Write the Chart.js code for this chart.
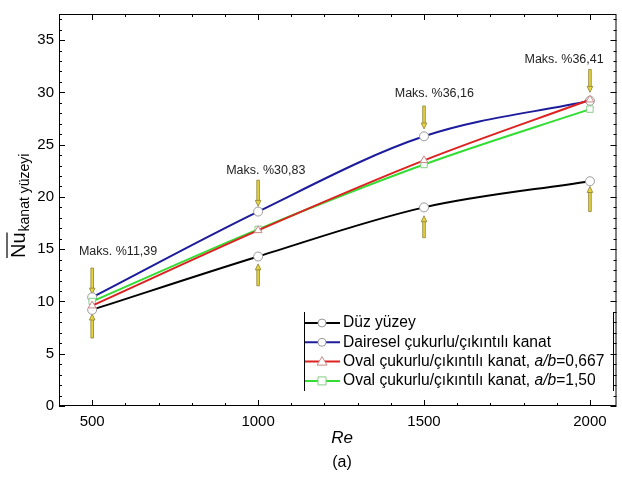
<!DOCTYPE html>
<html><head><meta charset="utf-8">
<script src="https://cdn.jsdelivr.net/npm/chart.js@4/dist/chart.umd.min.js"></script>
<style>html,body{margin:0;padding:0;background:#fff}#wrap{width:622px;height:479px;position:relative}</style>
</head><body><div id="wrap"><canvas id="c" width="622" height="479"></canvas></div>
<script>
// ---- data ----
const reValues = [500, 1000, 1500, 2000];
const duzYuzey = [9.2, 14.3, 19.0, 21.5];
const dairesel = [10.4, 18.6, 25.8, 29.2];
const oval0667 = [9.6, 16.8, 23.5, 29.3];
const oval150 = [10.0, 16.9, 23.1, 28.4];
const seriesNames = ["Düz yüzey", "Dairesel çukurlu/çıkıntılı kanat", "Oval çukurlu/çıkıntılı kanat, ", "Oval çukurlu/çıkıntılı kanat, "];
const xTicks = [500, 1000, 1500, 2000];
const yTicks = [0, 5, 10, 15, 20, 25, 30, 35];
// arrows (value ranges)
const arrowDownStart = [13.2, 21.6, 28.7, 32.2];
const arrowDownTip = [10.7, 19.1, 26.5, 30.0];
const arrowUpStart = [6.5, 11.5, 16.1, 18.6];
const arrowUpTip = [8.8, 13.6, 18.2, 21.0];
// annotations
const annTexts = ["Maks. %11,39", "Maks. %30,83", "Maks. %36,16", "Maks. %36,41"];
const annRe = [578, 1023, 1531, 1922];
const annNu = [14.8, 22.5, 29.85, 33.1];

const pts = arr => reValues.map((x, i) => ({x: x, y: arr[i]}));
const FONT = '"Liberation Sans", Arial, sans-serif';

function mkDs(label, arr, color, style, edge, order) {
  return {label, data: pts(arr), borderColor: color, borderWidth: 2, pointStyle: style,
    pointRadius: 4.5, pointBackgroundColor: '#fff', pointBorderColor: edge, pointBorderWidth: 1,
    cubicInterpolationMode: 'monotone', fill: false, order};
}

const legendItems = [
  {color: '#000', style: 'circle', edge: '#999', parts: [["Düz yüzey", false]]},
  {color: '#1c1c9c', style: 'circle', edge: '#999', parts: [["Dairesel çukurlu/çıkıntılı kanat", false]]},
  {color: '#dd2222', style: 'triangle', edge: '#c88', parts: [["Oval çukurlu/çıkıntılı kanat, ", false], ["a/b", true], ["=0,667", false]]},
  {color: '#33dd33', style: 'rect', edge: '#8c8', parts: [["Oval çukurlu/çıkıntılı kanat, ", false], ["a/b", true], ["=1,50", false]]}
];

function drawMarker(ctx, style, x, y, edge) {
  ctx.save(); ctx.fillStyle = '#fff'; ctx.strokeStyle = edge; ctx.lineWidth = 1;
  ctx.beginPath();
  if (style === 'circle') ctx.arc(x, y, 4, 0, Math.PI * 2);
  else if (style === 'triangle') { ctx.moveTo(x, y - 5); ctx.lineTo(x + 5, y + 3.5); ctx.lineTo(x - 5, y + 3.5); ctx.closePath(); }
  else ctx.rect(x - 4, y - 4, 8, 8);
  ctx.fill(); ctx.stroke(); ctx.restore();
}

function drawArrow(ctx, x, y0, y1) {
  const dir = y1 > y0 ? 1 : -1;
  ctx.save();
  ctx.fillStyle = '#e8d63c'; ctx.strokeStyle = '#8a7f3a'; ctx.lineWidth = 0.8;
  const h = Math.abs((y1 - dir * 5) - y0);
  ctx.beginPath(); ctx.rect(x - 1.3, Math.min(y0, y1 - dir * 5), 2.6, h); ctx.fill(); ctx.stroke();
  ctx.beginPath(); ctx.moveTo(x - 2.8, y1 - dir * 6); ctx.lineTo(x + 2.8, y1 - dir * 6); ctx.lineTo(x, y1); ctx.closePath();
  ctx.fill(); ctx.stroke();
  ctx.restore();
}

const deco = {
  id: 'deco',
  beforeDatasetsDraw(chart) {
    const {ctx, scales: {x, y}} = chart;
    reValues.forEach((re, i) => {
      const px = x.getPixelForValue(re);
      drawArrow(ctx, px, y.getPixelForValue(arrowDownStart[i]), y.getPixelForValue(arrowDownTip[i]));
      drawArrow(ctx, px, y.getPixelForValue(arrowUpStart[i]), y.getPixelForValue(arrowUpTip[i]));
    });
  },
  afterDraw(chart) {
    const {ctx, chartArea: a, scales: {x, y}} = chart;
    ctx.save();
    ctx.strokeStyle = '#000'; ctx.lineWidth = 1;
    ctx.strokeRect(a.left + 0.5, a.top + 0.5, a.right - a.left - 1, a.bottom - a.top - 1);
    ctx.beginPath();
    for (let v = 500; v <= x.max; v += 100) {
      const px = Math.round(x.getPixelForValue(v)) + 0.5;
      const len = (v % 500 === 0) ? 6 : 3;
      ctx.moveTo(px, a.bottom); ctx.lineTo(px, a.bottom - len);
      ctx.moveTo(px, a.top); ctx.lineTo(px, a.top + len);
    }
    for (let v = 0; v <= y.max; v += 1) {
      const py = Math.round(y.getPixelForValue(v)) + 0.5;
      const len = (v % 5 === 0) ? 6 : 3;
      ctx.moveTo(a.left, py); ctx.lineTo(a.left + len, py);
      ctx.moveTo(a.right, py); ctx.lineTo(a.right - len, py);
    }
    ctx.stroke();
    // annotations
    ctx.fillStyle = '#222'; ctx.font = '12.5px ' + FONT; ctx.textAlign = 'center'; ctx.textBaseline = 'middle';
    annTexts.forEach((t, i) => ctx.fillText(t, x.getPixelForValue(annRe[i]), y.getPixelForValue(annNu[i])));
    // legend
    const lx = 304, ly0 = 323, dy = 19.3;
    ctx.strokeStyle = '#000'; ctx.lineWidth = 1;
    ctx.beginPath(); ctx.moveTo(lx + 0.5, 312); ctx.lineTo(lx + 0.5, 391);
    ctx.moveTo(613.5, 312); ctx.lineTo(613.5, 391); ctx.stroke();
    legendItems.forEach((it, i) => {
      const yy = ly0 + i * dy;
      ctx.strokeStyle = it.color; ctx.lineWidth = 2;
      ctx.beginPath(); ctx.moveTo(lx + 1, yy); ctx.lineTo(lx + 36, yy); ctx.stroke();
      drawMarker(ctx, it.style, lx + 18, yy, it.edge);
      let tx = lx + 39;
      ctx.fillStyle = '#000'; ctx.textAlign = 'left'; ctx.textBaseline = 'middle';
      it.parts.forEach(([t, ital]) => {
        ctx.font = (ital ? 'italic ' : '') + '15.6px ' + FONT;
        ctx.fillText(t, tx, yy); tx += ctx.measureText(t).width;
      });
    });
    // x title
    ctx.fillStyle = '#000'; ctx.textAlign = 'center'; ctx.textBaseline = 'middle';
    ctx.font = 'italic 17px ' + FONT; ctx.fillText('Re', 342, 438);
    ctx.font = '16px ' + FONT; ctx.fillText('(a)', 342, 463);
    // y title
    ctx.save(); ctx.translate(18, 200); ctx.rotate(-Math.PI / 2);
    ctx.textAlign = 'left'; ctx.textBaseline = 'alphabetic';
    ctx.font = '20px ' + FONT;
    const nuW = ctx.measureText('Nu').width;
    const startX = -58;
    ctx.fillText('Nu', startX, 7);
    ctx.lineWidth = 1.2; ctx.strokeStyle = '#000';
    ctx.beginPath(); ctx.moveTo(startX, -11); ctx.lineTo(startX + nuW, -11); ctx.stroke();
    ctx.font = '14px ' + FONT; ctx.fillText('kanat yüzeyi', startX + nuW + 1, 11);
    ctx.restore();
    ctx.restore();
  }
};

new Chart(document.getElementById('c'), {
  type: 'line',
  data: {datasets: [
    mkDs(seriesNames[0], duzYuzey, '#000', 'circle', '#999', 4),
    mkDs(seriesNames[1], dairesel, '#1c1c9c', 'circle', '#999', 3),
    mkDs(seriesNames[2] + 'a/b=0,667', oval0667, '#dd2222', 'triangle', '#c88', 1),
    mkDs(seriesNames[3] + 'a/b=1,50', oval150, '#33dd33', 'rect', '#8c8', 2)
  ]},
  options: {
    responsive: false, animation: false,
    layout: {padding: {top: 5, right: 4, left: 0, bottom: 0}},
    plugins: {legend: {display: false}, tooltip: {enabled: false}},
    scales: {
      x: {type: 'linear', min: 400, max: 2080,
        grid: {display: false, drawTicks: false}, border: {display: false},
        afterBuildTicks: s => { s.ticks = xTicks.map(v => ({value: v})); },
        afterFit: s => { s.height = 73; },
        ticks: {padding: 7, color: '#000', font: {family: FONT, size: 15}, maxRotation: 0, callback: v => String(v)}},
      y: {type: 'linear', min: 0, max: 37.5,
        grid: {display: false, drawTicks: false}, border: {display: false},
        afterBuildTicks: s => { s.ticks = yTicks.map(v => ({value: v})); },
        afterFit: s => { s.width = 59; },
        ticks: {padding: 5, color: '#000', font: {family: FONT, size: 15}, callback: v => String(v)}}
    }
  },
  plugins: [deco]
});
</script></body></html>
